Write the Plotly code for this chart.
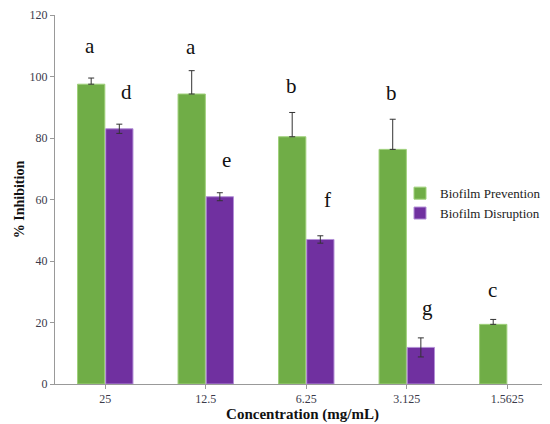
import plotly.graph_objects as go

categories = ["25", "12.5", "6.25", "3.125", "1.5625"]
prevention = [97.5, 94.3, 80.4, 76.3, 19.4]
prevention_err = [2.0, 7.6, 7.9, 9.8, 1.6]
disruption = [83.0, 60.9, 47.0, 11.9, None]
disruption_err = [1.5, 1.3, 1.2, 3.1, None]
prev_letters = ["a", "a", "b", "b", "c"]
prev_letter_y = [110, 109.6, 97, 94.6, 30.6]
disr_letters = ["d", "e", "f", "g", None]
disr_letter_y = [95, 72.8, 59.8, 24.8, None]

font_family = "Liberation Serif, Times New Roman, serif"
green = "#70AD47"
purple = "#7030A0"

fig = go.Figure()
fig.add_trace(go.Bar(
    x=categories, y=prevention, name="Biofilm Prevention",
    marker=dict(color=green, line=dict(color="#9fd07a", width=1)),
    error_y=dict(type="data", array=prevention_err, symmetric=False,
                 arrayminus=[0]*5, color="#333333", thickness=1, width=3),
))
fig.add_trace(go.Bar(
    x=categories, y=disruption, name="Biofilm Disruption",
    marker=dict(color=purple, line=dict(color="#b38fd6", width=1)),
    error_y=dict(type="data", array=disruption_err, symmetric=True,
                 color="#333333", thickness=1, width=3),
))

for i, c in enumerate(categories):
    if prev_letters[i]:
        fig.add_annotation(x=i, y=prev_letter_y[i], text=prev_letters[i],
                           showarrow=False, xshift=-15,
                           font=dict(family=font_family, size=21, color="#111111"))
    if disr_letters[i]:
        fig.add_annotation(x=i, y=disr_letter_y[i], text=disr_letters[i],
                           showarrow=False, xshift=21,
                           font=dict(family=font_family, size=21, color="#111111"))

tick_color = "#3a3a4a"
fig.update_layout(
    width=550, height=424,
    margin=dict(l=47, r=8, t=7, b=48),
    paper_bgcolor="white", plot_bgcolor="white",
    barmode="group", bargap=0.44, bargroupgap=0.03,
    font=dict(family=font_family, color="#333333"),
    legend=dict(x=0.697, y=0.49, xanchor="left", yanchor="middle",
                font=dict(family=font_family, size=13, color="#222222"),
                bgcolor="rgba(0,0,0,0)", itemwidth=30, tracegroupgap=0),
    xaxis=dict(
        type="category", range=[-0.5, 4.425], automargin=False,
        showline=True, linecolor="#999999", linewidth=1,
        ticks="outside", ticklen=4, tickcolor="#999999",
        tickfont=dict(family=font_family, size=12, color=tick_color),
        title=dict(text="<b>Concentration (mg/mL)</b>", standoff=2,
                   font=dict(family=font_family, size=15, color="#111111")),
        showgrid=False,
    ),
    yaxis=dict(
        range=[0, 120], tickvals=[0, 20, 40, 60, 80, 100, 120], automargin=False,
        showline=True, linecolor="#999999", linewidth=1,
        ticks="outside", ticklen=4, tickcolor="#999999",
        tickfont=dict(family=font_family, size=12, color=tick_color),
        title=dict(text="<b>% Inhibition</b>", standoff=1,
                   font=dict(family=font_family, size=14, color="#111111")),
        showgrid=False, zeroline=False,
    ),
)

fig.write_html("out.html")
